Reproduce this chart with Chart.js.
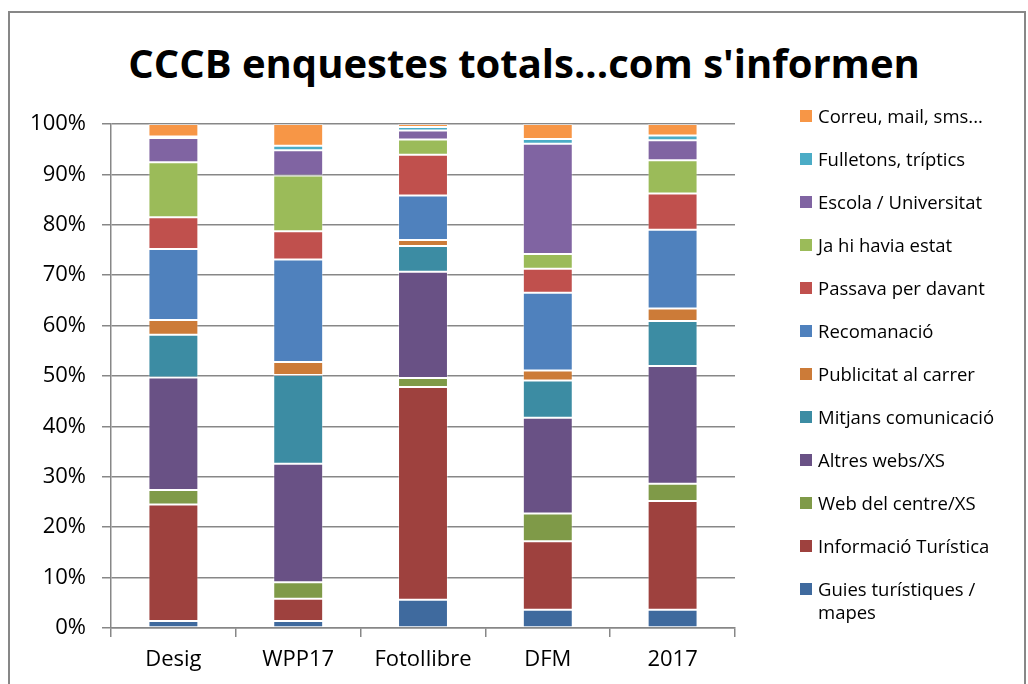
<!DOCTYPE html>
<html>
<head>
<meta charset="utf-8">
<script src="https://cdn.jsdelivr.net/npm/chart.js@4"></script>
<style>
  html, body { margin: 0; padding: 0; background: #fff; }
  body { width: 1028px; height: 684px; position: relative; overflow: hidden; font-family: "Open Sans", sans-serif; }
  #frame { position: absolute; left: 8px; top: 11px; width: 1014px; height: 700px; border: 2px solid #878787; }
  #title { position: absolute; left: 8px; width: 1032px; top: 36px; text-align: center; font-weight: bold; font-size: 40px; line-height: 54px; color: #000; }
  #chart { position: absolute; left: 0; top: 0; }
  #legend { position: absolute; left: 800px; top: 104px; width: 220px; }
  .item { display: flex; align-items: flex-start; height: 43px; font-size: 18.5px; line-height: 23px; color: #000; }
  .box { width: 12px; height: 12px; margin-top: 6px; margin-right: 6px; flex: none; }
  .txt { width: 196px; }
</style>
</head>
<body>
<div id="frame"></div>
<div id="title">CCCB enquestes totals...com s'informen</div>
<canvas id="chart" width="1028" height="684"></canvas>
<div id="legend"></div>
<script>
const categories = ["Desig", "WPP17", "Fotollibre", "DFM", "2017"];

const seriesNames = [
  "Guies turístiques / mapes",
  "Informació Turística",
  "Web del centre/XS",
  "Altres webs/XS",
  "Mitjans comunicació",
  "Publicitat al carrer",
  "Recomanació",
  "Passava per davant",
  "Ja hi havia estat",
  "Escola / Universitat",
  "Fulletons, tríptics",
  "Correu, mail, sms...",
];

const seriesColors = [
  "#3f6a9e",
  "#9e413e",
  "#7f9a48",
  "#695185",
  "#3c8ca3",
  "#cc7b38",
  "#4f81bd",
  "#c0504d",
  "#9bbb59",
  "#8064a2",
  "#4bacc6",
  "#f79646",
];

// percentages per category (Desig, WPP17, Fotollibre, DFM, 2017)
const guies = [1.4, 1.4, 5.6, 3.6, 3.6];
const infoTuristica = [23.1, 4.4, 42.2, 13.6, 21.6];
const webCentre = [2.9, 3.3, 1.8, 5.5, 3.4];
const altresWebs = [22.3, 23.5, 21.1, 19.0, 23.4];
const mitjans = [8.5, 17.6, 5.1, 7.4, 8.9];
const publicitat = [2.9, 2.6, 1.2, 2.0, 2.5];
const recomanacio = [14.1, 20.3, 8.8, 15.4, 15.6];
const passava = [6.3, 5.6, 8.1, 4.8, 7.2];
const jaHiHavia = [10.9, 11.1, 3.0, 2.9, 6.6];
const escola = [4.8, 5.0, 1.8, 21.9, 4.0];
const fulletons = [0.3, 0.9, 0.7, 0.9, 0.9];
const correu = [2.5, 4.3, 0.6, 3.0, 2.3];

const seriesValues = [
  guies, infoTuristica, webCentre, altresWebs, mitjans, publicitat,
  recomanacio, passava, jaHiHavia, escola, fulletons, correu,
];

const yTicks = [0, 10, 20, 30, 40, 50, 60, 70, 80, 90, 100];

const datasets = seriesNames.map((name, i) => ({
  label: name,
  data: seriesValues[i],
  backgroundColor: seriesColors[i],
  borderColor: "rgba(255,255,255,0.35)",
  borderWidth: 1,
  borderSkipped: false,
}));

const gridColor = "#878787";

new Chart(document.getElementById("chart"), {
  type: "bar",
  data: { labels: categories, datasets: datasets },
  options: {
    responsive: false,
    animation: false,
    layout: { padding: { top: 124, right: 293, left: 5, bottom: 0 } },
    datasets: { bar: { categoryPercentage: 1, barPercentage: 0.4 } },
    plugins: {
      legend: { display: false },
      title: { display: false },
      tooltip: { enabled: false },
    },
    scales: {
      x: {
        stacked: true,
        afterFit: (scale) => { scale.height = 56; },
        grid: { drawOnChartArea: false, drawTicks: true, tickLength: 9, color: gridColor, lineWidth: 1.5 },
        border: { display: true, color: gridColor, width: 1.5 },
        ticks: { color: "#000", padding: 10, font: { family: "Open Sans", size: 22 } },
      },
      y: {
        stacked: true,
        min: 0,
        max: 100,
        afterFit: (scale) => { scale.width = 106; },
        afterBuildTicks: (scale) => { scale.ticks = yTicks.map((v) => ({ value: v })); },
        grid: { color: gridColor, lineWidth: 1.5, tickLength: 9 },
        border: { display: true, color: gridColor, width: 1.5 },
        ticks: {
          color: "#000",
          padding: 16,
          font: { family: "Open Sans", size: 22 },
          callback: (v) => v + "%",
        },
      },
    },
  },
});

// legend, top item = last series
const legend = document.getElementById("legend");
for (let i = seriesNames.length - 1; i >= 0; i--) {
  const item = document.createElement("div");
  item.className = "item";
  item.innerHTML = `<span class="box" style="background:${seriesColors[i]}"></span><span class="txt">${seriesNames[i]}</span>`;
  legend.appendChild(item);
}
</script>
</body>
</html>
